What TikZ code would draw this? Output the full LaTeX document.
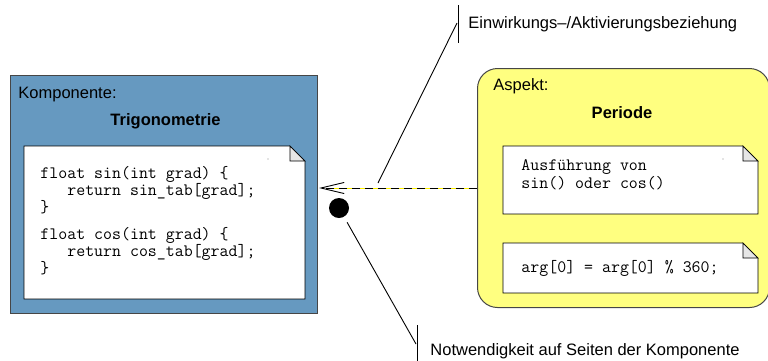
\documentclass[tikz,border=0pt]{standalone}
\usepackage{fontspec}
\setmainfont{Liberation Sans}
\usetikzlibrary{calc}
\definecolor{compblue}{RGB}{102,153,192}
\definecolor{aspyellow}{RGB}{255,255,128}
\definecolor{foldgray}{RGB}{230,230,230}
\definecolor{framegray}{RGB}{70,70,70}

% a note sheet with a folded upper right corner, drawn over an empty node
\newcommand\drawnote[1]{%
  \filldraw[fill=white, draw=black, line width=0.8pt]
    (#1.north west) -- ($(#1.north east)+(-15,0)$) -- ($(#1.north east)+(0,15)$)
    -- (#1.south east) -- (#1.south west) -- cycle;
  \filldraw[fill=foldgray, draw=black, line width=0.8pt]
    ($(#1.north east)+(-15,0)$) -- ($(#1.north east)+(0,15)$)
    -- ($(#1.north east)+(-15,15)$) -- cycle;}

\begin{document}
\begin{tikzpicture}[x=1pt, y=-1pt, line width=0.9pt,
  tag/.style={font=\fontsize{16.5}{19}\selectfont, inner sep=0, anchor=base west},
  heading/.style={font=\fontsize{16.5}{19}\selectfont\bfseries, inner sep=0, anchor=base},
  % multi-line code: the base anchor sits on the last line
  code/.style={font=\fontsize{17.4}{15.2}\selectfont\ttfamily, inner sep=0,
    anchor=base west, align=left},
  sheet/.style={inner sep=0, anchor=north west},
  frame/.style={draw=framegray, line width=1pt, inner sep=0, anchor=north west}]
\useasboundingbox (0,0) rectangle (768,360);
\clip (0,0) rectangle (768,360);

% component
\node[frame, fill=compblue, minimum width=307pt, minimum height=238pt] (komp) at (10,75) {};
\node[tag] (kompTag) at (18,98) {Komponente:};
\node[heading] (kompName) at (165.5,125) {Trigonometrie};
\node[sheet, minimum width=280pt, minimum height=152pt] (kompCode) at (24,146) {};
\drawnote{kompCode}
\fill[black!45] (268,159) circle (0.7pt);
\node[code] (kSin) at (40,212.4) {float sin(int grad) \{\\
\hphantom{xxx}return sin\_tab[grad];\\
\}};
\node[code] (kCos) at (40,273.4) {float cos(int grad) \{\\
\hphantom{xxx}return cos\_tab[grad];\\
\}};

% aspect
\node[frame, fill=aspyellow, rounded corners=20pt, minimum width=292pt, minimum height=239pt] (asp) at (477,68) {};
\node[tag] (aspTag) at (493,90) {Aspekt:};
\node[heading] (aspName) at (622,118) {Periode};
\node[sheet, minimum width=254pt, minimum height=67pt] (aspA) at (503,146) {};
\drawnote{aspA}
\fill[black!45] (723,159) circle (0.7pt);
\node[code] (aText) at (521,188) {Ausführung von\\ sin() oder cos()};
\node[sheet, minimum width=254pt, minimum height=49pt] (aspB) at (503,243) {};
\drawnote{aspB}
\node[code] (bText) at (521,272) {arg[0] = arg[0] \% 360;};

% influence relation from aspect to component
\coordinate (tip) at ($(komp.east |- asp.west)+(3,0)$);
\draw[yellow, line width=0.6pt] (asp.west) -- ($(tip)+(5,0)$);
\draw[dash pattern=on 8pt off 5pt] (asp.west) -- ($(tip)+(4,0)$);
\draw[line cap=round] ($(tip)+(23,-5.5)$) -- (tip) -- ($(tip)+(23,5.5)$);

% required hook on the component side
\node[circle, fill=black, minimum size=20pt, inner sep=0] (dot) at (339,208) {};

% annotations
\coordinate (e1) at (378,183);
\coordinate (e2) at (457,23);
\coordinate (bar1top) at (458,5);
\coordinate (bar1bot) at (458,43);
\draw (e1) -- (e2);
\draw (bar1top) -- (bar1bot);
\node[tag] (einw) at (468,28) {Einwirkungs–/Aktivierungsbeziehung};

\coordinate (n2) at (416,344);
\coordinate (bar2top) at (417,325);
\coordinate (bar2bot) at (417,362);
\draw[shorten <=6pt] (dot) -- (n2);
\draw (bar2top) -- (bar2bot);
\node[tag] (notw) at (430,355) {Notwendigkeit auf Seiten der Komponente};
\end{tikzpicture}
\end{document}
